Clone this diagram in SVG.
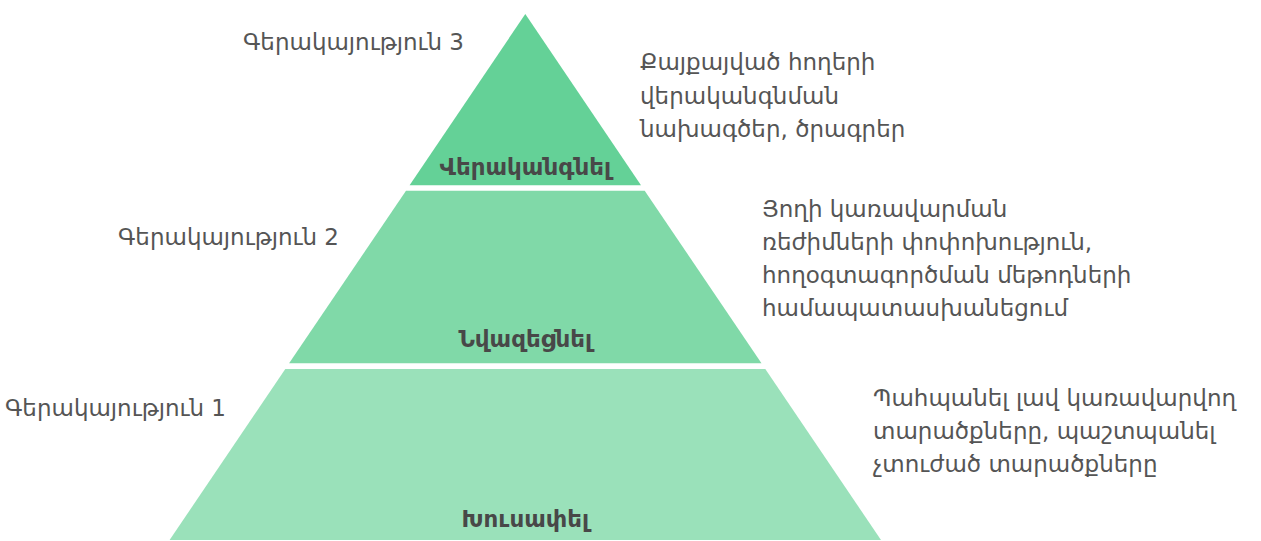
<svg xmlns="http://www.w3.org/2000/svg" width="1261" height="541" viewBox="0 0 1261 541">
  <style>
    .txt { font-family: "DejaVu Sans", "Noto Sans", sans-serif; font-size: 23px; fill: #555555; }
    .lbl { font-family: "DejaVu Sans", "Noto Sans", sans-serif; font-size: 23px; font-weight: bold; fill: #484848; text-anchor: middle; }
  </style>
  <rect width="1261" height="541" fill="#ffffff"/>
  <g id="tier3">
    <polygon points="525.3,14 641,185.3 409.6,185.3" fill="#64d197"/>
    <text class="lbl" x="525.3" y="175">Վերականգնել</text>
  </g>
  <g id="tier2">
    <polygon points="406,190.7 644.7,190.7 761.5,363.3 289.1,363.3" fill="#80d9a8"/>
    <text class="lbl" x="525.3" y="347">Նվազեցնել</text>
  </g>
  <g id="tier1">
    <polygon points="285.3,369 765.3,369 881,540 169.6,540" fill="#9ae1ba"/>
    <text class="lbl" x="525.3" y="527">Խուսափել</text>
  </g>
  <g id="priorities">
    <text class="txt" x="243" y="50">Գերակայություն 3</text>
    <text class="txt" x="118" y="245">Գերակայություն 2</text>
    <text class="txt" x="5" y="416">Գերակայություն 1</text>
  </g>
  <g id="descriptions">
    <text class="txt" x="640" y="70">Քայքայված հողերի</text>
    <text class="txt" x="640" y="103.5">վերականգնման</text>
    <text class="txt" x="640" y="137">նախագծեր, ծրագրեր</text>
    <text class="txt" x="762" y="217">Յողի կառավարման</text>
    <text class="txt" x="762" y="250">ռեժիմների փոփոխություն,</text>
    <text class="txt" x="762" y="283">հողօգտագործման մեթոդների</text>
    <text class="txt" x="762" y="316">համապատասխանեցում</text>
    <text class="txt" x="873" y="406">Պահպանել լավ կառավարվող</text>
    <text class="txt" x="873" y="439">տարածքները, պաշտպանել</text>
    <text class="txt" x="873" y="472">չտուժած տարածքները</text>
  </g>
</svg>
